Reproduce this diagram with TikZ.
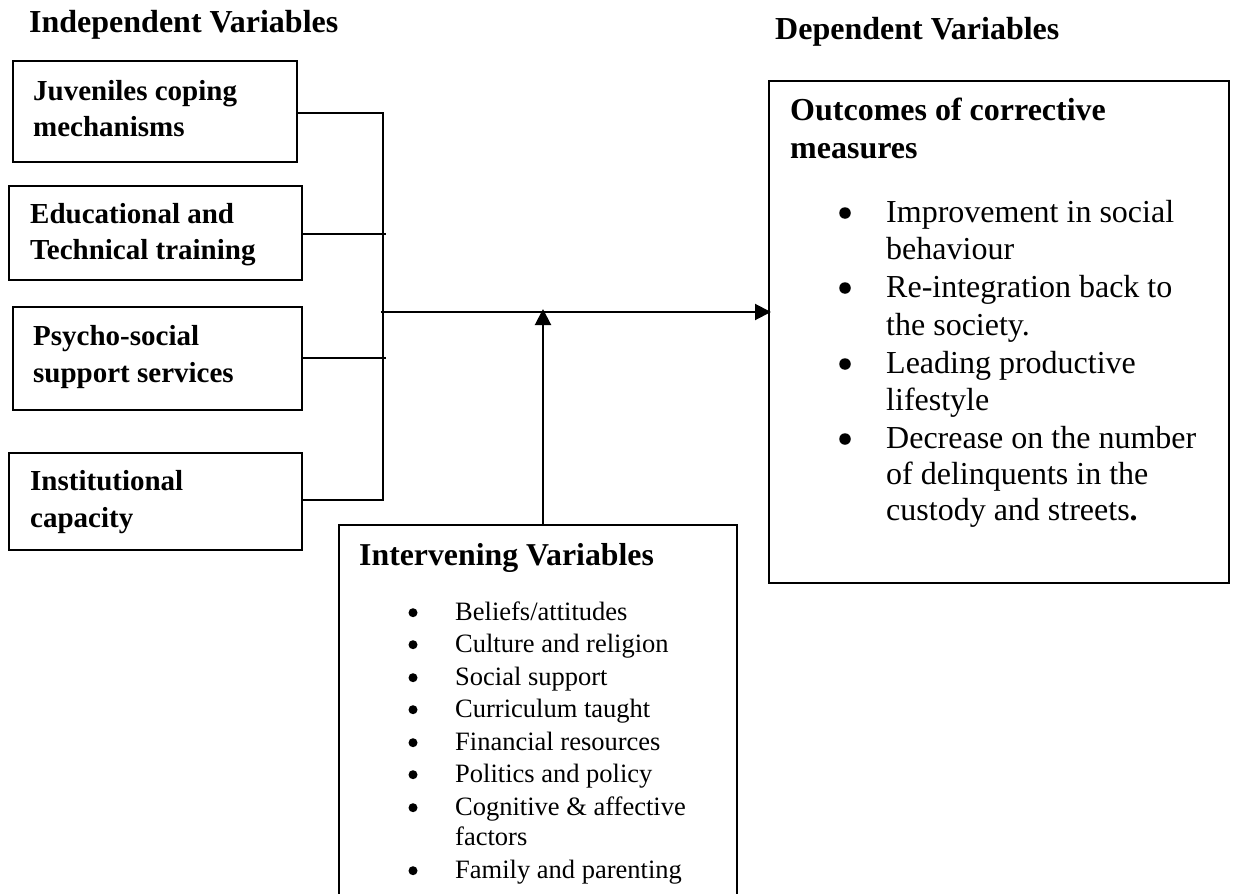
\documentclass[tikz,border=0pt]{standalone}
\usepackage{fontspec}
\setmainfont{Liberation Serif}
\usetikzlibrary{arrows.meta}
\begin{document}
\begin{tikzpicture}[x=1pt,y=-1pt,
  box/.style={draw, line width=2pt, inner sep=0pt},
  ln/.style={line width=2pt},
  arr/.style={line width=2pt, -{Triangle[length=16pt,width=16pt]}},
  lbl/.style={anchor=base west, inner sep=0pt},
  hd/.style={lbl, font=\fontsize{32}{38}\selectfont\bfseries},
  bx/.style={lbl, font=\fontsize{29}{35}\selectfont\bfseries},
  ob/.style={lbl, font=\fontsize{32}{38}\selectfont},
  ib/.style={lbl, font=\fontsize{26.5}{32}\selectfont},
  obul/.style={circle, fill, inner sep=0pt, minimum size=11.5pt},
  ibul/.style={circle, fill, inner sep=0pt, minimum size=9pt}]
\useasboundingbox (0,0) rectangle (1235,894);
\clip (0,0) rectangle (1235,894);
\fill[white] (0,0) rectangle (1235,894);

% headings
\node[hd] (hind) at (29,32) {Independent Variables};
\node[hd] (hdep) at (775,39) {Dependent Variables};

% independent boxes
\node[box, minimum width=284pt, minimum height=101pt] (b1) at (155,111.5) {};
\node[box, minimum width=293pt, minimum height=94pt] (b2) at (155.5,233) {};
\node[box, minimum width=289pt, minimum height=103pt] (b3) at (157.5,358.5) {};
\node[box, minimum width=293pt, minimum height=97pt] (b4) at (155.5,501.5) {};

\node[bx] (b1a) at (33,100) {Juveniles coping};
\node[bx] (b1b) at (33,136) {mechanisms};
\node[bx] (b2a) at (30,223) {Educational and};
\node[bx] (b2b) at (30,259) {Technical training};
\node[bx] (b3a) at (33,345) {Psycho-social};
\node[bx] (b3b) at (33,382) {support services};
\node[bx] (b4a) at (30,490) {Institutional};
\node[bx] (b4b) at (30,527) {capacity};

% outcomes box
\node[box, minimum width=460pt, minimum height=502pt] (out) at (999,332) {};
\node[hd] (o0a) at (790,120) {Outcomes of corrective};
\node[hd] (o0b) at (790,158) {measures};
\node[obul] (ob1) at (845,213) {};
\node[ob] (o1a) at (886,222) {Improvement in social};
\node[ob] (o1b) at (886,259) {behaviour};
\node[obul] (ob2) at (845,288) {};
\node[ob] (o2a) at (886,297) {Re-integration back to};
\node[ob] (o2b) at (886,335) {the society.};
\node[obul] (ob3) at (845,364) {};
\node[ob] (o3a) at (886,373) {Leading productive};
\node[ob] (o3b) at (886,410) {lifestyle};
\node[obul] (ob4) at (845,439) {};
\node[ob] (o4a) at (886,448) {Decrease on the number};
\node[ob] (o4b) at (886,484) {of delinquents in the};
\node[ob] (o4c) at (886,520) {custody and streets\textbf{.}};

% intervening box (bottom edge lies below the picture)
\node[box, minimum width=398pt, minimum height=395pt] (inter) at (538,722.5) {};
\node[lbl, font=\fontsize{31.8}{38}\selectfont\bfseries] (ititle) at (359,565) {Intervening Variables};
\node[ibul] (ib1) at (413,612.7) {};
\node[ib] (i1) at (455,620) {Beliefs/attitudes};
\node[ibul] (ib2) at (413,644.7) {};
\node[ib] (i2) at (455,652) {Culture and religion};
\node[ibul] (ib3) at (413,677.7) {};
\node[ib] (i3) at (455,685) {Social support};
\node[ibul] (ib4) at (413,709.7) {};
\node[ib] (i4) at (455,717) {Curriculum taught};
\node[ibul] (ib5) at (413,742.7) {};
\node[ib] (i5) at (455,750) {Financial resources};
\node[ibul] (ib6) at (413,774.7) {};
\node[ib] (i6) at (455,782) {Politics and policy};
\node[ibul] (ib7) at (413,807.7) {};
\node[ib] (i7a) at (455,815) {Cognitive \& affective};
\node[ib] (i7b) at (455,845) {factors};
\node[ibul] (ib8) at (413,870.7) {};
\node[ib] (i8) at (455,878) {Family and parenting};

% connectors
\coordinate (vtop) at (383,113);
\coordinate (vbot) at (383,500);
\coordinate (c2) at (386,234);
\coordinate (c3) at (386,358);
\coordinate (hs) at (381,312);
\coordinate (up) at (543,525);
\draw[ln] (b1.east |- vtop) -- (vtop) -- (vbot) -- (b4.east |- vbot);
\draw[ln] (b2.east |- c2) -- (c2);
\draw[ln] (b3.east |- c3) -- (c3);
\draw[arr, shorten >=-3pt] (hs) -- (hs -| out.west);
\draw[arr, shorten >=-3pt] (up) -- (up |- hs);
\end{tikzpicture}
\end{document}
